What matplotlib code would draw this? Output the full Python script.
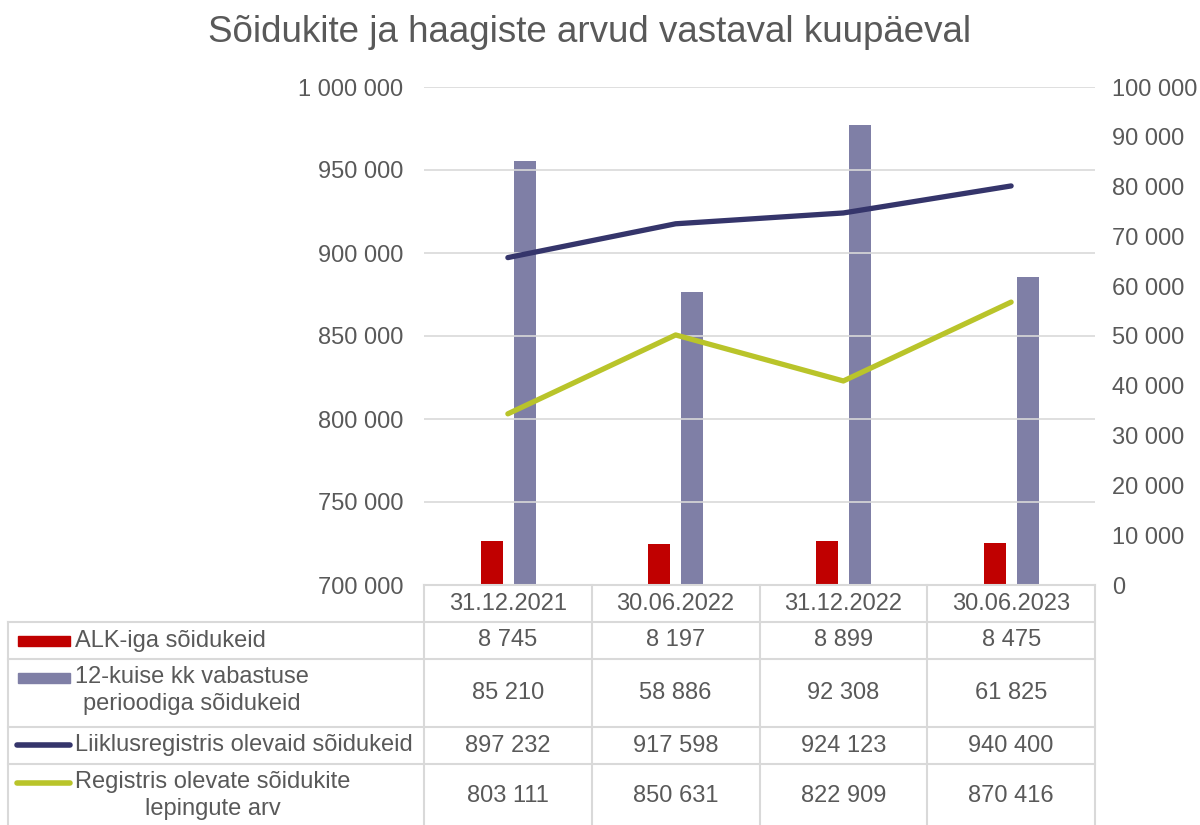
import matplotlib
matplotlib.use("Agg")
import matplotlib.pyplot as plt
from matplotlib.ticker import FuncFormatter
from matplotlib.lines import Line2D
from matplotlib.patches import Rectangle

plt.rcParams['font.family'] = ['Liberation Sans', 'DejaVu Sans']

title = "Sõidukite ja haagiste arvud vastaval kuupäeval"
categories = ["31.12.2021", "30.06.2022", "31.12.2022", "30.06.2023"]
alk = [8745, 8197, 8899, 8475]
kk_vabastus = [85210, 58886, 92308, 61825]
liiklusregister = [897232, 917598, 924123, 940400]
lepingud = [803111, 850631, 822909, 870416]
series_labels = ["ALK-iga sõidukeid",
                 "12-kuise kk vabastuse\nperioodiga sõidukeid",
                 "Liiklusregistris olevaid sõidukeid",
                 "Registris olevate sõidukite\nlepingute arv"]

RED = "#C00000"
PURPLE = "#7F7FA6"
NAVY = "#35356B"
LIME = "#B9C42A"
TXT = "#595959"
GRID = "#D9D9D9"
FS = 17

W, H = 1200, 825
fig = plt.figure(figsize=(12, 8.25), dpi=100)

def fx(px):
    return px / W

def fy(py):
    return 1 - py / H

ax_l, ax_r, ax_t, ax_b = 424, 1095, 87, 585
ax = fig.add_axes([fx(ax_l), fy(ax_b), fx(ax_r - ax_l), fy(ax_t) - fy(ax_b)])
ax2 = ax.twinx()

x = list(range(len(categories)))
ax.set_xlim(-0.5, len(categories) - 0.5)
ax.set_ylim(700000, 1000000)
ax.set_yticks(range(700000, 1000001, 50000))
ax2.set_ylim(0, 100000)
ax2.set_yticks(range(0, 100001, 10000))

fmt = FuncFormatter(lambda v, p: f"{int(v):,}".replace(",", " "))
ax.yaxis.set_major_formatter(fmt)
ax2.yaxis.set_major_formatter(fmt)

ax.grid(axis='y', color=GRID, lw=1.2)
ax.set_axisbelow(True)
for a in (ax, ax2):
    for s in a.spines.values():
        s.set_visible(False)
    a.tick_params(axis='both', length=0, labelsize=FS, labelcolor=TXT)
ax.tick_params(axis='y', pad=15)
ax2.tick_params(axis='y', pad=12)
ax.set_xticks([])

ax.set_zorder(ax2.get_zorder() + 1)
ax.patch.set_visible(False)

bw = 0.13
ax2.bar([i - 0.097 for i in x], alk, width=bw, color=RED)
ax2.bar([i + 0.1 for i in x], kk_vabastus, width=bw, color=PURPLE)
ax.plot(x, liiklusregister, color=NAVY, lw=3.8, solid_capstyle='round', solid_joinstyle='round')
ax.plot(x, lepingud, color=LIME, lw=3.8, solid_capstyle='round', solid_joinstyle='round')

fig.text(fx(590), fy(32), title, ha='center', va='center', fontsize=26.5, color=TXT)

# data table
col_edges = [ax_l + (ax_r - ax_l) * k / len(categories) for k in range(len(categories) + 1)]
row_edges = [585, 622, 659, 727, 764, 832]
tbl_left = 8
lc = dict(color=GRID, lw=1.5, transform=fig.transFigure, clip_on=False)

fig.add_artist(Line2D([fx(ax_l), fx(ax_r)], [fy(row_edges[0])] * 2, **lc))
for r in row_edges[1:-1]:
    fig.add_artist(Line2D([fx(tbl_left), fx(ax_r)], [fy(r)] * 2, **lc))
for c in col_edges:
    fig.add_artist(Line2D([fx(c)] * 2, [fy(row_edges[0]), fy(row_edges[-1])], **lc))
fig.add_artist(Line2D([fx(tbl_left)] * 2, [fy(row_edges[1]), fy(row_edges[-1])], **lc))

for i, c in enumerate(categories):
    cx = (col_edges[i] + col_edges[i + 1]) / 2
    fig.text(fx(cx), fy((row_edges[0] + row_edges[1]) / 2), c, ha='center', va='center',
             fontsize=FS, color=TXT)

data_rows = [alk, kk_vabastus, liiklusregister, lepingud]
for r, vals in enumerate(data_rows):
    top, bot = row_edges[r + 1], row_edges[r + 2]
    cy = (top + bot) / 2 if r < 3 else 796
    for i, v in enumerate(vals):
        cx = (col_edges[i] + col_edges[i + 1]) / 2
        fig.text(fx(cx), fy(cy), f"{v:,}".replace(",", " "), ha='center', va='center',
                 fontsize=FS, color=TXT)

key_y = [641, 678, 745, 783]
for r in range(4):
    ky = key_y[r]
    if r < 2:
        col = RED if r == 0 else PURPLE
        fig.add_artist(Rectangle((fx(18), fy(ky + 5)), fx(52), fy(ky - 5) - fy(ky + 5),
                                 transform=fig.transFigure, color=col, clip_on=False))
    else:
        col = NAVY if r == 2 else LIME
        fig.add_artist(Line2D([fx(17), fx(70)], [fy(ky)] * 2, color=col, lw=4,
                              solid_capstyle='round', transform=fig.transFigure))
    lines = series_labels[r].split("\n")
    if len(lines) == 1:
        fig.text(fx(75), fy(ky), lines[0], ha='left', va='center', fontsize=FS, color=TXT)
    else:
        fig.text(fx(75), fy(ky - 12), series_labels[r], ha='left', va='top', fontsize=FS,
                 color=TXT, multialignment='center', linespacing=1.3)

fig.savefig("out.png", dpi=100)
